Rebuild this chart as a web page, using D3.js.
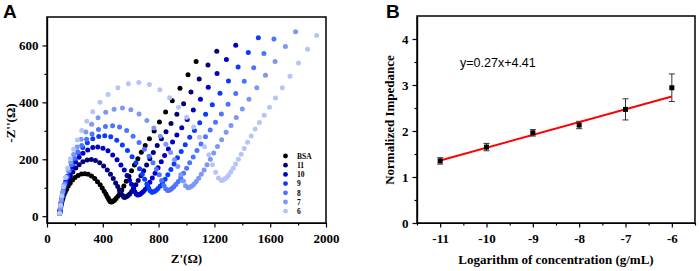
<!DOCTYPE html>
<html><head><meta charset="utf-8">
<script src="https://cdnjs.cloudflare.com/ajax/libs/d3/7.8.5/d3.min.js"></script>
<style>
body { margin: 0; background: #fff; }
svg text { fill: #000; }
.tick text { font-family: "Liberation Serif", "Times New Roman", serif; font-weight: bold; font-size: 13px; }
.axis path, .axis line { stroke: #000; stroke-width: 1.2; }
.title { font-family: "Liberation Serif", "Times New Roman", serif; font-weight: bold; font-size: 13px; }
.panel { font-family: "Liberation Sans", Arial, sans-serif; font-weight: bold; font-size: 19px; }
.legend text { font-family: "Liberation Serif", serif; font-weight: bold; font-size: 7.5px; }
</style>
</head>
<body>
<div id="chart"></div>
<script>
// ---- panel A: Nyquist plots (Z', -Z'') ----
const seriesNames = ["BSA", "11", "10", "9", "8", "7", "6"];
const seriesColors = ["#000000", "#000078", "#0000c4", "#0a3cff", "#4d73ff", "#7c97f6", "#b5c5fb"];

const bsaPts = [[90,10],[92,12],[95,22],[99,33],[103,43],[109,54],[115,64],[122,75],[131,85],[141,95],[152,106],[166,116],[183,127],[201,136],[223,143],[247,148],[271,149],[295,147],[319,141],[342,132],[362,121],[381,110],[396,99],[410,88],[422,78],[431,69],[440,62],[447,56],[453,52],[460,50],
  [466,51],[475,53],[484,56],[495,62],[508,70],[521,80],[536,92],[551,106],[568,123],[587,140],[606,160],[627,180],[651,202],[676,225],[704,248],[734,272],[768,299],[806,331],[850,366],[898,406],[953,450],[1011,497],[1069,544]];
const c11Pts = [[90,10],[93,16],[97,30],[101,44],[107,58],[113,72],[121,86],[131,100],[141,113],[154,127],[168,141],[185,155],[206,169],[230,181],[257,191],[288,197],[318,199],[348,196],[378,188],[406,176],[432,162],[455,147],[475,132],[492,117],[507,104],[519,92],[529,82],[539,74],[547,69],[555,66],
  [562,67],[571,69],[581,73],[593,78],[607,87],[621,97],[637,110],[654,125],[673,142],[693,160],[714,180],[737,202],[762,224],[790,248],[820,272],[853,297],[889,326],[931,358],[979,395],[1032,436],[1091,482],[1154,531],[1217,580]];
const c10Pts = [[90,10],[93,19],[98,36],[103,53],[110,70],[118,87],[128,104],[139,122],[152,139],[167,156],[184,173],[205,190],[230,207],[258,221],[292,233],[328,241],[364,243],[401,239],[437,230],[471,215],[502,198],[530,180],[554,162],[574,143],[592,126],[606,112],[619,97],[630,86],[640,78],[650,74],
  [657,75],[667,77],[678,81],[691,87],[705,95],[720,106],[737,119],[755,134],[775,151],[796,170],[819,191],[843,213],[870,236],[900,261],[931,285],[966,311],[1005,340],[1049,373],[1100,411],[1156,453],[1219,501],[1286,551],[1353,601]];
const c9Pts = [[90,10],[94,23],[99,42],[106,62],[114,82],[123,102],[134,122],[148,141],[163,161],[181,181],[201,201],[226,221],[256,241],[289,258],[328,272],[371,280],[414,283],[457,279],[500,267],[540,250],[577,231],[610,209],[638,188],[663,167],[683,147],[700,130],[716,113],[729,99],[740,89],[752,84],
  [760,85],[770,87],[783,91],[796,97],[812,106],[828,117],[847,130],[866,146],[888,164],[911,183],[935,205],[962,227],[991,251],[1023,277],[1057,301],[1095,328],[1137,358],[1185,392],[1240,432],[1301,475],[1370,524],[1443,575],[1515,627]];
const c8Pts = [[90,10],[95,25],[101,48],[109,70],[118,92],[129,114],[142,137],[157,159],[175,181],[196,204],[220,226],[249,248],[284,270],[323,289],[369,305],[419,315],[470,318],[520,313],[571,301],[617,281],[660,259],[698,235],[732,211],[760,188],[784,165],[805,146],[822,125],[838,108],[851,96],[865,90],
  [873,91],[883,93],[895,97],[909,103],[924,111],[941,122],[959,135],[979,151],[1001,168],[1023,188],[1048,208],[1075,231],[1104,254],[1136,279],[1170,303],[1208,330],[1250,359],[1298,393],[1353,431],[1414,474],[1482,522],[1555,572],[1627,623]];
const c7Pts = [[90,10],[96,30],[103,57],[112,84],[123,110],[136,137],[152,163],[170,190],[191,217],[216,243],[245,270],[279,296],[320,323],[366,346],[421,365],[481,376],[541,380],[601,374],[660,359],[716,336],[766,310],[812,281],[852,253],[886,224],[914,198],[938,175],[959,146],[978,124],[993,107],[1010,100],
  [1018,101],[1029,103],[1041,107],[1055,113],[1070,122],[1087,133],[1106,147],[1126,162],[1147,181],[1171,200],[1195,222],[1222,245],[1252,269],[1284,295],[1319,319],[1357,347],[1400,377],[1448,411],[1504,451],[1566,495],[1635,544],[1709,596],[1782,648]];
const c6Pts = [[90,10],[97,38],[106,71],[118,103],[132,136],[148,169],[168,202],[191,235],[218,268],[249,301],[285,334],[328,367],[380,400],[438,428],[508,451],[583,465],[658,470],[734,463],[809,444],[879,416],[943,383],[1001,348],[1051,313],[1093,277],[1129,244],[1160,216],[1186,181],[1209,154],[1229,134],[1250,125],
  [1257,126],[1266,128],[1277,132],[1290,137],[1303,145],[1318,156],[1335,168],[1352,183],[1372,200],[1392,218],[1414,238],[1438,260],[1464,282],[1492,306],[1523,329],[1557,355],[1595,383],[1638,415],[1687,451],[1742,492],[1803,538],[1868,587],[1933,635]];
const seriesPts = [bsaPts, c11Pts, c10Pts, c9Pts, c8Pts, c7Pts, c6Pts];

const zReTicks = [0, 400, 800, 1200, 1600, 2000];
const zImTicks = [0, 200, 400, 600];

// ---- panel B: calibration ----
const logConc = [-11, -10, -9, -8, -7, -6];
const normImp = [1.35, 1.65, 1.96, 2.13, 2.47, 2.94];
const impErr = [0.07, 0.08, 0.07, 0.08, 0.23, 0.30];
const fitX = [-11, -6];
const fitY = [1.36, 2.75];
const impTicks = [0, 1, 2, 3, 4];

const width = 699, height = 271;
const plain = d => String(d);   // hyphen minus, no thousands comma
const svg = d3.select("#chart").append("svg")
    .attr("width", width)
    .attr("height", height);

// ===== Panel A =====
const a = {left: 47, right: 326, top: 17, bottom: 223};
const xA = d3.scaleLinear().domain([0, 2000]).range([a.left, a.right]);
const yA = d3.scaleLinear().domain([-24, 700]).range([a.bottom, a.top]);

// minor ticks
svg.append("g").attr("class", "axis")
    .attr("transform", `translate(0,${a.bottom})`)
    .call(d3.axisBottom(xA).tickValues(d3.range(200, 2000, 400)).tickSize(2.5).tickFormat("").tickSizeOuter(0));
svg.append("g").attr("class", "axis")
    .attr("transform", `translate(${a.left},0)`)
    .call(d3.axisLeft(yA).tickValues(d3.range(100, 700, 200)).tickSize(2.5).tickFormat("").tickSizeOuter(0));

svg.append("g").attr("class", "axis")
    .attr("transform", `translate(0,${a.bottom})`)
    .call(d3.axisBottom(xA).tickValues(zReTicks).tickFormat(plain).tickSize(4.5).tickPadding(6).tickSizeOuter(0));
svg.append("g").attr("class", "axis")
    .attr("transform", `translate(${a.left},0)`)
    .call(d3.axisLeft(yA).tickValues(zImTicks).tickFormat(plain).tickSize(4.5).tickPadding(4).tickSizeOuter(0));

svg.append("rect")
    .attr("x", a.left).attr("y", a.top)
    .attr("width", a.right - a.left).attr("height", a.bottom - a.top)
    .attr("fill", "none").attr("stroke", "#000").attr("stroke-width", 1.5);

seriesPts.forEach((pts, i) => {
    svg.append("g").selectAll("circle")
        .data(pts)
        .join("circle")
        .attr("cx", d => xA(d[0]))
        .attr("cy", d => yA(d[1]))
        .attr("r", 2.5)
        .attr("fill", seriesColors[i]);
});

// legend
const legend = svg.append("g").attr("class", "legend");
seriesNames.forEach((name, i) => {
    const ly = 156 + i * 9.2;
    legend.append("circle").attr("cx", 285.5).attr("cy", ly).attr("r", 2.4).attr("fill", seriesColors[i]);
    legend.append("text").attr("x", 297).attr("y", ly + 2.7).text(name);
});

svg.append("text").attr("class", "title")
    .attr("x", (a.left + a.right) / 2).attr("y", 263)
    .attr("text-anchor", "middle").text("Z'(Ω)");
svg.append("text").attr("class", "title")
    .attr("transform", "rotate(-90)")
    .attr("x", -123).attr("y", 15)
    .attr("text-anchor", "middle").text("-Z''(Ω)");
svg.append("text").attr("class", "panel").attr("x", 3).attr("y", 18).text("A");

// ===== Panel B =====
const b = {left: 417, right: 695, top: 16, bottom: 223};
const xB = d3.scaleLinear().domain([-11.5, -5.5]).range([b.left, b.right]);
const yB = d3.scaleLinear().domain([0, 4.5]).range([b.bottom, b.top]);

svg.append("g").attr("class", "axis")
    .attr("transform", `translate(0,${b.bottom})`)
    .call(d3.axisBottom(xB).tickValues(d3.range(-11.5, -5.4, 1)).tickSize(2.5).tickFormat("").tickSizeOuter(0));
svg.append("g").attr("class", "axis")
    .attr("transform", `translate(${b.left},0)`)
    .call(d3.axisLeft(yB).tickValues(d3.range(0.5, 4.5, 1)).tickSize(2.5).tickFormat("").tickSizeOuter(0));

svg.append("g").attr("class", "axis")
    .attr("transform", `translate(0,${b.bottom})`)
    .call(d3.axisBottom(xB).tickValues(logConc).tickFormat(plain).tickSize(4.5).tickPadding(6).tickSizeOuter(0));
svg.append("g").attr("class", "axis")
    .attr("transform", `translate(${b.left},0)`)
    .call(d3.axisLeft(yB).tickValues(impTicks).tickFormat(plain).tickSize(4.5).tickPadding(4).tickSizeOuter(0));

svg.append("rect")
    .attr("x", b.left).attr("y", b.top)
    .attr("width", b.right - b.left).attr("height", b.bottom - b.top)
    .attr("fill", "none").attr("stroke", "#000").attr("stroke-width", 1.5);

const pts = logConc.map((x, i) => ({x, y: normImp[i], e: impErr[i]}));

// error bars
const eb = svg.append("g").attr("stroke", "#333").attr("stroke-width", 1);
pts.forEach(d => {
    const cx = xB(d.x);
    eb.append("line").attr("x1", cx).attr("x2", cx).attr("y1", yB(d.y - d.e)).attr("y2", yB(d.y + d.e));
    eb.append("line").attr("x1", cx - 3).attr("x2", cx + 3).attr("y1", yB(d.y - d.e)).attr("y2", yB(d.y - d.e));
    eb.append("line").attr("x1", cx - 3).attr("x2", cx + 3).attr("y1", yB(d.y + d.e)).attr("y2", yB(d.y + d.e));
});

svg.append("path")
    .datum(fitX.map((x, i) => [x, fitY[i]]))
    .attr("d", d3.line().x(d => xB(d[0])).y(d => yB(d[1])))
    .attr("stroke", "#ff0000").attr("stroke-width", 2).attr("fill", "none");

svg.append("g").selectAll("rect")
    .data(pts)
    .join("rect")
    .attr("x", d => xB(d.x) - 2.5)
    .attr("y", d => yB(d.y) - 2.5)
    .attr("width", 5).attr("height", 5)
    .attr("fill", "#000");

svg.append("text")
    .attr("x", 460).attr("y", 67)
    .style("font-family", "'Liberation Sans', Arial, sans-serif")
    .style("font-size", "12.5px")
    .text("y=0.27x+4.41");

svg.append("text").attr("class", "title")
    .attr("x", (b.left + b.right) / 2).attr("y", 264)
    .attr("text-anchor", "middle").text("Logarithm of concentration (g/mL)");
svg.append("text").attr("class", "title")
    .attr("transform", "rotate(-90)")
    .attr("x", -120).attr("y", 394)
    .attr("text-anchor", "middle").text("Normalized Impedance");
svg.append("text").attr("class", "panel").attr("x", 386).attr("y", 18).text("B");
</script>
</body></html>
